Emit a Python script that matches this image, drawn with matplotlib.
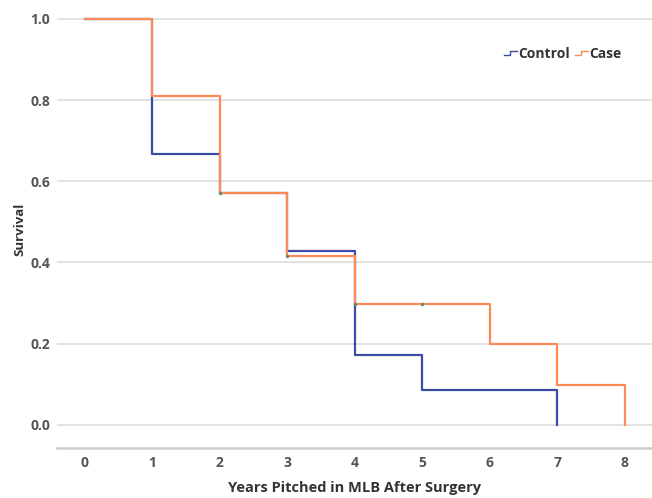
import matplotlib
matplotlib.use("Agg")
import matplotlib.pyplot as plt
from matplotlib.legend_handler import HandlerBase
from matplotlib.lines import Line2D

plt.rcParams['font.family'] = ['Open Sans', 'DejaVu Sans']

# Data (Kaplan-Meier style step values; value holds from x[i] to x[i+1])
control_x = [0, 1, 2, 3, 4, 5, 7]
control_y = [1.0, 0.667, 0.571, 0.429, 0.171, 0.086, 0.0]
case_x = [0, 1, 2, 3, 4, 6, 7, 8]
case_y = [1.0, 0.81, 0.571, 0.417, 0.297, 0.2, 0.099, 0.0]
case_censor_x = [2, 3, 4, 5]
case_censor_y = [0.571, 0.417, 0.297, 0.297]
x_ticks = [0, 1, 2, 3, 4, 5, 6, 7, 8]
y_ticks = [0.0, 0.2, 0.4, 0.6, 0.8, 1.0]

blue = '#3B4BA6'
orange = '#FF8A55'


class StepHandler(HandlerBase):
    def create_artists(self, legend, orig_handle, xdescent, ydescent,
                       width, height, fontsize, trans):
        w, h = width, height
        xs = [0, 0.45 * w, 0.45 * w, w]
        ys = [0.25 * h, 0.25 * h, 0.7 * h, 0.7 * h]
        ln = Line2D(xs, ys, color=orig_handle.get_color(), lw=1.0, transform=trans)
        return [ln]


fig = plt.figure(figsize=(6.52, 4.98), dpi=100)
ax = fig.add_axes([0.0874, 0.1004, 0.9126, 0.878])

ax.step(control_x, control_y, where='post', color=blue, lw=1.6, label='Control', zorder=3)
ax.step(case_x, case_y, where='post', color=orange, lw=1.6, label='Case', zorder=4)
ax.plot(case_censor_x, case_censor_y, ls='none', marker='o', ms=1.5, color='#5a8a80', zorder=5)

ax.set_xlim(-0.41, 8.4)
ax.set_ylim(-0.057, 1.02)
ax.set_xticks(x_ticks)
ax.set_yticks(y_ticks)
ax.set_yticklabels([f'{v:.1f}' for v in y_ticks])
ax.grid(axis='y', color='#DDDDDD', lw=1.2)
ax.set_axisbelow(True)
for s in ['top', 'right', 'left']:
    ax.spines[s].set_visible(False)
ax.spines['bottom'].set_color('#CCCCCC')
ax.spines['bottom'].set_linewidth(1.8)
ax.tick_params(axis='both', length=0, labelsize=10, labelcolor='#555555')
ax.tick_params(axis='x', pad=6)
ax.tick_params(axis='y', pad=5)
for lbl in ax.get_xticklabels() + ax.get_yticklabels():
    lbl.set_fontweight('bold')

ax.set_xlabel('Years Pitched in MLB After Surgery', fontsize=10.5, fontweight='bold',
              color='#333333', labelpad=8)
ax.set_ylabel('Survival', fontsize=9.5, fontweight='bold', color='#333333', labelpad=3)

h1 = Line2D([], [], color=blue)
h2 = Line2D([], [], color=orange)
leg = ax.legend([h1, h2], ['Control', 'Case'], handler_map={Line2D: StepHandler()},
                loc='upper left', bbox_to_anchor=(0.735, 0.94), ncol=2, frameon=False,
                fontsize=10, handlelength=0.9, handletextpad=0.1, columnspacing=0.4,
                borderpad=0.2)
for t in leg.get_texts():
    t.set_fontweight('bold')
    t.set_color('#333333')

fig.savefig('out.png', dpi=100)
